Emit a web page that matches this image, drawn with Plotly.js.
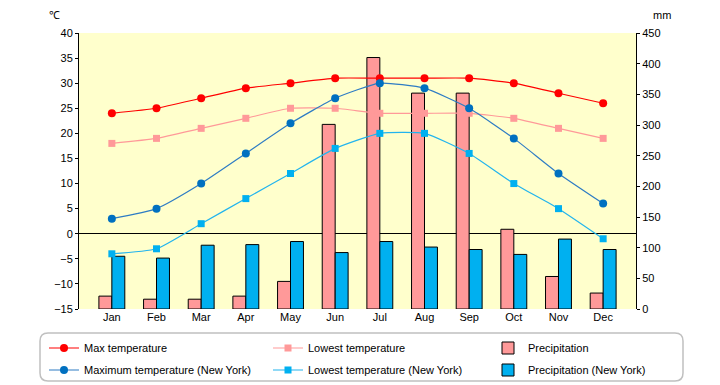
<!DOCTYPE html>
<html><head><meta charset="utf-8">
<script src="https://cdn.plot.ly/plotly-3.0.1.min.js"></script>
<style>body{margin:0;background:#fff}#c{width:720px;height:385px}</style>
</head><body><div id="c"></div>
<script>
var months = ["Jan","Feb","Mar","Apr","May","Jun","Jul","Aug","Sep","Oct","Nov","Dec"];
var maxTemp = [24,25,27,29,30,31,31,31,31,30,28,26];
var lowTemp = [18,19,21,23,25,25,24,24,24,23,21,19];
var precip = [21,16,16,21,45,301,410,352,352,130,53,26];
var nyMax = [3,5,10,16,22,27,30,29,25,19,12,6];
var nyLow = [-4,-3,2,7,12,17,20,20,16,10,5,-1];
var nyPrecip = [86,83,104,105,110,92,110,101,97,89,114,97];

var F = "Liberation Sans, Arial, sans-serif";
var traces = [
  {type:"bar", x:months, y:precip, name:"Precipitation", yaxis:"y", legend:"legend3",
   marker:{color:"#FF9999", line:{color:"#000", width:1}}},
  {type:"bar", x:months, y:nyPrecip, name:"Precipitation (New York)", yaxis:"y", legend:"legend6",
   marker:{color:"#00B0F0", line:{color:"#000", width:1}}},
  {type:"scatter", mode:"lines+markers", x:months, y:maxTemp, name:"Max temperature", yaxis:"y2", legend:"legend",
   line:{color:"#FF0000", width:1.2, shape:"spline", smoothing:0.5}, marker:{symbol:"circle", size:8, color:"#FF0000"}},
  {type:"scatter", mode:"lines+markers", x:months, y:lowTemp, name:"Lowest temperature", yaxis:"y2", legend:"legend2",
   line:{color:"#FF9999", width:1.2, shape:"spline", smoothing:0.5}, marker:{symbol:"square", size:7, color:"#FF9999"}},
  {type:"scatter", mode:"lines+markers", x:months, y:nyMax, name:"Maximum temperature (New York)", yaxis:"y2", legend:"legend4",
   line:{color:"#2E7CC4", width:1.2, shape:"spline", smoothing:0.5}, marker:{symbol:"circle", size:8, color:"#0070C0"}},
  {type:"scatter", mode:"lines+markers", x:months, y:nyLow, name:"Lowest temperature (New York)", yaxis:"y2", legend:"legend5",
   line:{color:"#22B4EE", width:1.2, shape:"spline", smoothing:0.5}, marker:{symbol:"square", size:7, color:"#00B0F0"}}
];

var L = 79, R = 636, T = 33, B = 309;
function px(x){return (x-L)/(R-L);}
function py(y){return (B-y)/(B-T);}
var x0=40, x1=683, y0=333, y1=381, r=8;
var path = "M"+px(x0+r)+","+py(y0)+" L"+px(x1-r)+","+py(y0)+" Q"+px(x1)+","+py(y0)+" "+px(x1)+","+py(y0+r)+
  " L"+px(x1)+","+py(y1-r)+" Q"+px(x1)+","+py(y1)+" "+px(x1-r)+","+py(y1)+
  " L"+px(x0+r)+","+py(y1)+" Q"+px(x0)+","+py(y1)+" "+px(x0)+","+py(y1-r)+
  " L"+px(x0)+","+py(y0+r)+" Q"+px(x0)+","+py(y0)+" "+px(x0+r)+","+py(y0)+" Z";

function leg(x, y){
  return {orientation:"h", xanchor:"left", yanchor:"middle", x:px(x), y:py(y),
    bgcolor:"rgba(0,0,0,0)", borderwidth:0, font:{family:F, size:11, color:"#000"}, itemwidth:30};
}
var layout = {
  width:720, height:385,
  margin:{l:L, r:720-R, t:T, b:385-B, pad:0, autoexpand:false},
  paper_bgcolor:"#fff", plot_bgcolor:"#FFFFCC",
  font:{family:F, size:11, color:"#000"},
  barmode:"group", bargap:0.42, bargroupgap:0,
  showlegend:true,
  legend: leg(44,348), legend2: leg(268,348), legend3: leg(488,348),
  legend4: leg(44,370), legend5: leg(268,370), legend6: leg(488,370),
  xaxis:{type:"category", showline:false, ticks:"", tickfont:{family:F, size:11}, showgrid:false, fixedrange:true},
  yaxis:{side:"right", range:[0,450], dtick:50, showgrid:false, zeroline:false, showline:true, linecolor:"#000", linewidth:1,
    ticks:"outside", ticklen:3, tickcolor:"#000", tickfont:{family:F, size:11}},
  yaxis2:{side:"left", overlaying:"y", range:[-15,40], dtick:5, showgrid:false, zeroline:true, zerolinecolor:"#000", zerolinewidth:1,
    showline:true, linecolor:"#000", linewidth:1, ticks:"outside", ticklen:3, tickcolor:"#000", tickfont:{family:F, size:11}},
  shapes:[{type:"path", xref:"paper", yref:"paper", path:path, line:{color:"#C0C0C0", width:1.5}, fillcolor:"rgba(0,0,0,0)", layer:"below"}],
  annotations:[
    {text:"℃", xref:"paper", yref:"paper", x:px(54), y:py(15), xanchor:"center", yanchor:"middle", showarrow:false, font:{family:F, size:11}},
    {text:"mm", xref:"paper", yref:"paper", x:px(662), y:py(15), xanchor:"center", yanchor:"middle", showarrow:false, font:{family:F, size:11}}
  ]
};
Plotly.newPlot("c", traces, layout, {displayModeBar:false, staticPlot:true});
</script></body></html>
